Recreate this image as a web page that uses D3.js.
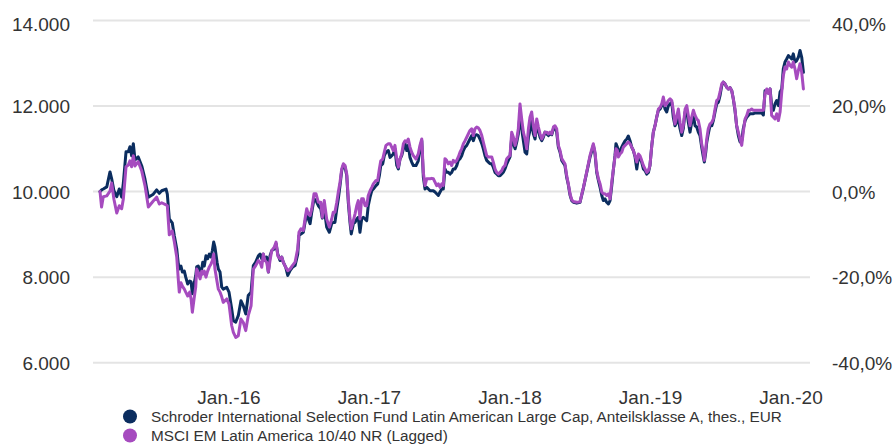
<!DOCTYPE html>
<html>
<head>
<meta charset="utf-8">
<script src="https://cdn.jsdelivr.net/npm/d3@7"></script>
<style>
  html, body { margin: 0; padding: 0; background: #ffffff; }
  svg { display: block; font-family: "Liberation Sans", Arial, sans-serif; }
</style>
</head>
<body>
<svg id="chart" width="895" height="444"></svg>
<script>
// Weekly observations as decimal years, indexed to 10.000 at the start
const years = [
  2015.082,2015.093,2015.105,2015.130,2015.153,2015.165,2015.181,2015.201,2015.219,2015.236,
  2015.248,2015.267,2015.283,2015.295,2015.307,2015.319,2015.331,2015.354,2015.379,2015.402,
  2015.426,2015.461,2015.485,2015.504,2015.521,2015.552,2015.561,2015.575,2015.596,2015.611,
  2015.628,2015.639,2015.646,2015.658,2015.668,2015.682,2015.692,2015.706,2015.720,2015.730,
  2015.739,2015.751,2015.763,2015.770,2015.781,2015.794,2015.806,2015.813,2015.824,2015.836,
  2015.848,2015.860,2015.872,2015.881,2015.891,2015.900,2015.915,2015.924,2015.936,2015.948,
  2015.959,2015.984,2016.000,2016.019,2016.031,2016.048,2016.066,2016.085,2016.102,2016.119,
  2016.137,2016.157,2016.173,2016.190,2016.209,2016.221,2016.233,2016.244,2016.256,2016.268,
  2016.280,2016.292,2016.304,2016.322,2016.335,2016.347,2016.363,2016.375,2016.386,2016.404,
  2016.418,2016.434,2016.451,2016.470,2016.489,2016.498,2016.512,2016.529,2016.541,2016.553,
  2016.564,2016.577,2016.589,2016.605,2016.619,2016.636,2016.653,2016.664,2016.678,2016.695,
  2016.714,2016.731,2016.742,2016.754,2016.767,2016.778,2016.790,2016.802,2016.814,2016.826,
  2016.838,2016.849,2016.861,2016.870,2016.885,2016.897,2016.909,2016.920,2016.932,2016.944,
  2016.956,2016.968,2016.980,2016.991,2017.004,2017.016,2017.027,2017.046,2017.058,2017.070,
  2017.080,2017.094,2017.105,2017.117,2017.134,2017.146,2017.158,2017.169,2017.181,2017.194,
  2017.205,2017.217,2017.229,2017.241,2017.253,2017.265,2017.276,2017.288,2017.300,2017.312,
  2017.331,2017.347,2017.359,2017.372,2017.383,2017.395,2017.407,2017.419,2017.431,2017.443,
  2017.454,2017.466,2017.478,2017.490,2017.502,2017.514,2017.525,2017.537,2017.549,2017.561,
  2017.573,2017.585,2017.596,2017.609,2017.621,2017.632,2017.644,2017.656,2017.668,2017.680,
  2017.692,2017.715,2017.727,2017.739,2017.751,2017.763,2017.774,2017.786,2017.799,2017.810,
  2017.822,2017.834,2017.846,2017.858,2017.870,2017.881,2017.893,2017.905,2017.917,2017.929,
  2017.941,2017.952,2017.964,2017.977,2017.988,2018.000,2018.012,2018.024,2018.036,2018.048,
  2018.059,2018.071,2018.083,2018.095,2018.107,2018.119,2018.131,2018.142,2018.154,2018.166,
  2018.178,2018.190,2018.202,2018.214,2018.226,2018.237,2018.249,2018.261,2018.273,2018.285,
  2018.297,2018.309,2018.320,2018.332,2018.344,2018.356,2018.368,2018.391,2018.403,2018.415,
  2018.427,2018.439,2018.451,2018.475,2018.498,2018.522,2018.546,2018.569,2018.593,2018.605,
  2018.617,2018.629,2018.641,2018.653,2018.664,2018.676,2018.688,2018.700,2018.712,2018.724,
  2018.736,2018.747,2018.754,2018.764,2018.771,2018.783,2018.795,2018.807,2018.819,2018.831,
  2018.842,2018.854,2018.866,2018.878,2018.890,2018.902,2018.914,2018.925,2018.937,2018.949,
  2018.961,2018.973,2018.985,2018.996,2019.009,2019.020,2019.032,2019.044,2019.056,2019.068,
  2019.080,2019.091,2019.103,2019.115,2019.127,2019.139,2019.151,2019.162,2019.174,2019.186,
  2019.198,2019.210,2019.222,2019.233,2019.246,2019.258,2019.269,2019.281,2019.293,2019.305,
  2019.317,2019.329,2019.340,2019.352,2019.364,2019.376,2019.383,2019.393,2019.400,2019.411,
  2019.423,2019.436,2019.447,2019.459,2019.471,2019.483,2019.495,2019.507,2019.518,2019.530,
  2019.542,2019.554,2019.566,2019.578,2019.589,2019.601,2019.613,2019.625,2019.637,2019.649,
  2019.660,2019.673,2019.685,2019.696,2019.708,2019.720,2019.732,2019.744,2019.767,2019.791,
  2019.803,2019.815,2019.827,2019.838,2019.851,2019.862,2019.874,2019.886,2019.898,2019.910,
  2019.922,2019.934,2019.945,2019.957,2019.969,2019.981,2019.993,2020.005,2020.016,2020.028,
  2020.040,2020.052,2020.064,2020.076,2020.088
];

const fund = [
  10000,10040,10060,10110,10460,10300,10020,9880,10060,9870,
  10200,10930,10930,11050,10840,11120,10740,10810,10600,10290,
  9870,9940,10040,9960,10020,10060,9940,9360,9270,8960,
  8660,8310,8190,8260,8120,8140,8000,7840,7910,7890,
  7610,7840,8030,8240,8260,8140,8190,8350,8260,8500,
  8430,8540,8470,8610,8820,8700,8350,8190,8120,7770,
  7720,7760,7650,7260,6980,6950,7100,7450,7330,7140,
  7570,7650,8270,8350,8500,8540,8430,8540,8390,8470,
  8120,8500,8620,8660,8780,8540,8390,8470,8350,8230,
  8040,8150,8230,8270,8540,8970,9010,9050,9280,9520,
  9360,9250,9520,9830,9790,9670,9600,9380,9600,9170,
  9050,9250,9280,9280,9600,9830,10140,10490,10620,10570,
  10370,9750,9280,9010,9250,9280,9360,9400,9050,9360,
  9400,9360,9320,9670,9870,10020,10060,10140,10180,10370,
  10610,10650,10840,10920,10960,10800,10840,10880,11000,10610,
  10530,10760,10840,11000,11120,10960,11080,10800,10690,10610,
  10610,10720,11000,11190,10340,10060,10100,10060,10020,10020,
  10020,9990,9950,9910,9990,10060,10060,10530,10450,10450,
  10410,10450,10530,10530,10610,10730,10770,10840,10960,11040,
  11080,11230,11310,11190,11310,11330,11310,11230,11120,11000,
  10840,10730,10690,10650,10650,10570,10450,10410,10370,10370,
  10410,10450,10530,10650,10730,10810,11270,11120,11000,11160,
  11350,11820,11470,11190,10920,10880,11270,11430,11700,11350,
  11230,11540,11430,11270,11190,11270,11390,11350,11310,11350,
  11330,11470,11510,11390,11040,10920,10730,10610,10340,10160,
  9920,9790,9750,9730,9750,10080,10450,10800,11080,10880,
  10450,10260,10100,9910,9790,9830,9750,9710,9790,10140,
  10530,10840,11120,11040,10920,10960,11040,11120,11190,11230,
  11300,11190,11040,10960,10810,10530,10810,10770,10690,10530,
  10490,10410,10450,10610,11080,11390,11540,11740,11900,11930,
  12010,12130,11930,11860,12010,12050,12090,11740,11540,11620,
  11700,11470,11310,11470,11860,11900,11620,11390,11620,11780,
  11540,11510,11390,11310,11040,10810,10690,10920,11150,11350,
  11540,11540,11660,11860,12050,12090,12250,12480,12560,12520,
  12440,12400,12430,12360,12170,11900,11540,11310,11160,11190,
  11470,11660,11740,11780,11820,11820,11820,11840,11840,11840,
  11790,12360,12330,12330,12400,12010,11900,12050,12130,12010,
  12330,12400,12870,13030,13100,13180,13140,13100,13220,13030,
  13060,13140,13300,13140,12790
];

const benchmark = [
  10000,9640,9880,9900,10010,10200,9820,9500,9670,9600,
  9830,10580,10620,10720,10580,10840,10600,10700,10480,10140,
  9640,9780,9870,9710,9740,9690,9670,8990,9080,8820,
  8470,7950,7650,7870,7790,7720,7650,7560,7650,7490,
  7180,7490,7770,8190,8110,7960,8140,8070,8140,8000,
  8140,8240,8310,8380,8540,8190,7890,7720,7650,7540,
  7410,7490,7370,6870,6710,6590,6630,7020,6940,6750,
  7100,7330,8190,8270,8390,8350,8230,8540,8390,8350,
  8120,8390,8620,8700,8820,8500,8430,8470,8350,8230,
  8150,8190,8270,8350,8660,9050,9130,9090,9360,9600,
  9480,9440,9600,9950,9950,9750,9750,9400,9790,9360,
  9170,9360,9520,9520,9750,9990,10220,10530,10650,10610,
  10410,9830,9360,9130,9320,9480,9670,9790,9360,9830,
  9830,9670,9670,9910,10020,10100,10180,10260,10260,10530,
  10720,10760,10920,11080,11120,11120,11040,10960,11080,10760,
  10570,10760,10880,11120,11190,11160,11230,11040,10920,10840,
  10760,10880,11080,11230,10450,10140,10300,10300,10300,10310,
  10300,10220,10140,10180,10100,10180,10140,10770,10730,10650,
  10690,10610,10730,10690,10730,10810,10920,11000,11120,11190,
  11270,11430,11470,11310,11470,11510,11490,11430,11310,11160,
  11000,10840,10810,10810,10810,10690,10530,10450,10410,10450,
  10490,10570,10610,10770,10810,10840,11390,11270,11080,11230,
  11470,12050,11700,11390,11230,11000,11470,11740,11860,11540,
  11310,11700,11510,11350,11230,11310,11390,11390,11350,11390,
  11350,11510,11540,11470,11080,10960,10770,10650,10380,10180,
  9950,9810,9770,9750,9760,10090,10460,10840,11120,10920,
  10490,10300,10180,9990,9950,9950,9910,9950,9830,10220,
  10530,10810,11000,10960,10810,10880,10920,11040,11080,11120,
  11160,11120,11040,10960,10840,10690,10880,10840,10730,10610,
  10530,10450,10490,10610,11080,11390,11540,11740,11930,11970,
  12050,12210,12010,12050,12130,12170,12130,11900,11580,11740,
  11930,11620,11390,11540,11930,12010,11780,11540,11740,11900,
  11780,11700,11660,11470,11120,10920,10730,11000,11230,11470,
  11580,11620,11700,11930,12130,12170,12330,12520,12560,12520,
  12440,12400,12430,12360,12170,11930,11540,11390,11230,11080,
  11390,11700,11780,11900,11900,11930,11900,11900,11900,11900,
  11900,12290,12400,12290,12400,11780,11740,11700,11820,11660,
  11860,12330,12710,12910,12870,13030,12950,12910,13030,12870,
  12640,12830,12990,12790,12400
];

const leftTicks = [6000, 8000, 10000, 12000, 14000];
const rightTicks = [-40, -20, 0, 20, 40];
const yearTicks = [2016, 2017, 2018, 2019, 2020];
const seriesNames = [
  "Schroder International Selection Fund Latin American Large Cap, Anteilsklasse A, thes., EUR",
  "MSCI EM Latin America 10/40 NR (Lagged)"
];
const seriesColors = ["#0b2d5f", "#a64bbf"];

const de = d3.formatLocale({ decimal: ",", thousands: ".", grouping: [3], currency: ["", " €"], minus: "-" });
const fmtNum = de.format(",.0f");
const fmtPct = v => de.format(".1f")(v) + "%";

const svg = d3.select("#chart");
const plot = { left: 93, right: 810, top: 20.5, bottom: 362.7 };

const x = d3.scaleLinear().domain([2015.032, 2020.135]).range([plot.left, plot.right]);
const y = d3.scaleLinear().domain([6000, 14000]).range([plot.bottom, plot.top]);
const yPct = d3.scaleLinear().domain([-40, 40]).range([plot.bottom, plot.top]);

const textColor = "#333333";

// horizontal grid
svg.append("g")
  .selectAll("line")
  .data(leftTicks)
  .join("line")
  .attr("x1", plot.left).attr("x2", plot.right)
  .attr("y1", d => y(d)).attr("y2", d => y(d))
  .attr("stroke", "#e4e4e4")
  .attr("stroke-width", 2);

// left axis labels
svg.append("g")
  .selectAll("text")
  .data(leftTicks)
  .join("text")
  .attr("x", 70)
  .attr("y", d => y(d) + 7 + (d === 14000 ? 3 : 0))
  .attr("text-anchor", "end")
  .attr("font-size", 19)
  .attr("fill", textColor)
  .text(d => fmtNum(d));

// right axis labels
svg.append("g")
  .selectAll("text")
  .data(rightTicks)
  .join("text")
  .attr("x", 832)
  .attr("y", d => yPct(d) + 7 + (d === 40 ? 3 : 0))
  .attr("text-anchor", "start")
  .attr("font-size", 19)
  .attr("fill", textColor)
  .text(d => fmtPct(d));

// x axis labels
svg.append("g")
  .selectAll("text")
  .data(yearTicks)
  .join("text")
  .attr("x", d => x(d))
  .attr("y", 404)
  .attr("text-anchor", "middle")
  .attr("font-size", 19)
  .attr("fill", textColor)
  .text(d => "Jan.-" + String(d).slice(2));

// series lines: fund first, benchmark drawn on top
const line = vals => d3.line()
  .x((d, i) => x(years[i]))
  .y(d => y(d))(vals);

[fund, benchmark].forEach((vals, k) => {
  svg.append("path")
    .attr("d", line(vals))
    .attr("fill", "none")
    .attr("stroke", seriesColors[k])
    .attr("stroke-width", 3)
    .attr("stroke-linejoin", "round")
    .attr("stroke-linecap", "round");
});

// legend
const legend = svg.append("g");
seriesNames.forEach((name, k) => {
  const cy = 416.5 + k * 19;
  legend.append("circle")
    .attr("cx", 130).attr("cy", cy).attr("r", 7)
    .attr("fill", seriesColors[k]);
  legend.append("text")
    .attr("x", 151).attr("y", cy + 5.3)
    .attr("font-size", 15.3)
    .attr("fill", textColor)
    .text(name);
});
</script>
</body>
</html>
